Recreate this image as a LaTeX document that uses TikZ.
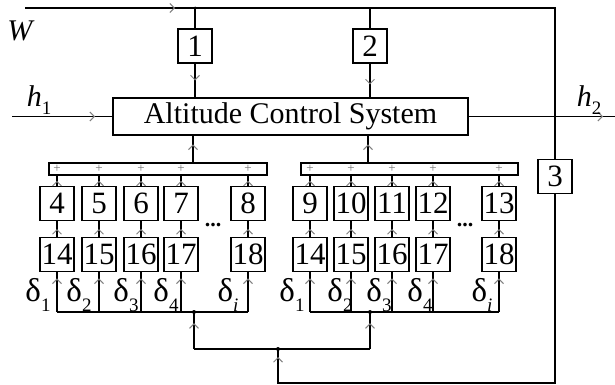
\documentclass[tikz,border=0pt]{standalone}
\usepackage{fontspec}
\setmainfont{Liberation Serif}
\usetikzlibrary{arrows.meta,decorations.markings}
\newcommand\lsub[1]{\raisebox{-0.28em}{\fontsize{19}{19}\selectfont #1}}
\tikzset{
  ln/.style={line width=1.9pt, draw=black},
  bx/.style={draw, line width=1.9pt, minimum width=34pt, minimum height=34pt, inner sep=0pt, font=\fontsize{31}{31}\selectfont, fill=white},
  tipat/.style={postaction={decorate,decoration={markings,mark=at position #1 with {\arrow[black!50]{Straight Barb[length=4.5pt,width=9pt,line width=1pt]}}}}},
  jdot/.style={circle, fill=black, inner sep=0pt, minimum size=4pt},
  lbl/.style={inner sep=0pt, font=\fontsize{30}{30}\selectfont},
  dlbl/.style={inner sep=0pt, font=\fontsize{33}{33}\selectfont},
  plus/.style={inner sep=0pt, text=black!55, font=\fontsize{13}{13}\selectfont},
  dots/.style={inner sep=0pt, font=\fontsize{22}{22}\selectfont\bfseries},
}
\begin{document}
\begin{tikzpicture}[x=1pt,y=-1pt]
\useasboundingbox (0,0) rectangle (615,385);
% top boxes
\node[bx] (b1) at (195,46) {1};
\node[bx] (b2) at (370,46) {2};
\node[bx] (b3) at (555,176.5) {3};
\node[draw, line width=1.9pt, minimum width=355pt, minimum height=37pt, inner sep=0pt, font=\fontsize{30}{30}\selectfont] (acs) at (290.5,116.5) {Altitude Control System};
% W line
\coordinate (wst) at (25,8);
\coordinate (tr) at (555,8);
\coordinate (j1) at (195,8);
\coordinate (j2) at (370,8);
\draw[ln, tipat=150pt] (wst) -- (tr) -- (b3.north);
\draw[ln] (j1) -- (b1.north);
\draw[ln] (j2) -- (b2.north);
\draw[ln, tipat=0.5] (b1.south) -- (b1.south |- acs.north);
\draw[ln, tipat=0.62] (b2.south) -- (b2.south |- acs.north);
\node[jdot, minimum size=3pt] at (j1) {};
% h1, h2
\coordinate (h1s) at (12,116.5);
\coordinate (h2e) at (615,116.5);
\draw[ln, tipat=-17pt] (h1s) -- (acs.west);
\draw[ln, tipat=-12pt] (acs.east) -- (h2e);
\node[lbl] (wl) at (21,31) {\textit{W}};
\node[lbl] (h1l) at (39,100) {\textit{h}\lsub{1}};
\node[lbl] (h2l) at (589,100) {\textit{h}\lsub{2}};
% summing bars
\node[draw, line width=1.9pt, minimum width=218pt, minimum height=12pt, inner sep=0pt] (barL) at (158,169) {};
\node[draw, line width=1.9pt, minimum width=217pt, minimum height=12pt, inner sep=0pt] (barR) at (409.5,169) {};
\coordinate (aL) at (193,135);
\coordinate (aR) at (368,135);
\draw[ln, tipat=0.65] (barL.north -| aL) -- (aL);
\draw[ln, tipat=0.65] (barR.north -| aR) -- (aR);
% left group
\foreach \x/\u/\l [count=\i] in {57/4/14, 99/5/15, 141/6/16, 181/7/17, 248/8/18} {
  \node[bx] (uL\i) at (\x,203.5) {\u};
  \node[bx] (lL\i) at (\x,254.5) {\l};
  \draw[ln, tipat=0.5] (lL\i.north) -- (uL\i.south);
  \draw[ln, tipat=0.5] (uL\i.north) -- (uL\i.north |- barL.south);
  \node[plus] at (\x,169) {+};
  \coordinate (dL\i) at (\x,312);
  \draw[ln, tipat=-6pt] (dL\i) -- (lL\i.south);
}
% right group
\foreach \x/\u/\l [count=\i] in {310/9/14, 351/10/15, 392/11/16, 433/12/17, 499/13/18} {
  \node[bx] (uR\i) at (\x,203.5) {\u};
  \node[bx] (lR\i) at (\x,254.5) {\l};
  \draw[ln, tipat=0.5] (lR\i.north) -- (uR\i.south);
  \draw[ln, tipat=0.5] (uR\i.north) -- (uR\i.north |- barR.south);
  \node[plus] at (\x,169) {+};
  \coordinate (dR\i) at (\x,312);
  \draw[ln, tipat=-6pt] (dR\i) -- (lR\i.south);
}
\node[dots] (dotsL) at (213,225) {...};
\node[dots] (dotsR) at (465,225) {...};
\draw[ln] (dL1) -- (dL5);
\draw[ln] (dR1) -- (dR5);
% delta labels
\node[dlbl] at (38,295) {δ\lsub{1}};
\node[dlbl] at (79,295) {δ\lsub{2}};
\node[dlbl] at (126,295) {δ\lsub{3}};
\node[dlbl] at (166,295) {δ\lsub{4}};
\node[dlbl] at (228,295) {δ\lsub{\textit{i}}};
\node[dlbl] at (292,295) {δ\lsub{1}};
\node[dlbl] at (340,295) {δ\lsub{2}};
\node[dlbl] at (379,295) {δ\lsub{3}};
\node[dlbl] at (420,295) {δ\lsub{4}};
\node[dlbl] at (482,295) {δ\lsub{\textit{i}}};
% bottom feed
\coordinate (jL) at (194,312);
\coordinate (jR) at (370,312);
\coordinate (jB) at (278,349);
\draw[ln] (jL |- jB) -- (jR |- jB);
\draw[ln, tipat=0.7] (jL |- jB) -- (jL);
\draw[ln, tipat=0.7] (jR |- jB) -- (jR);
\draw[ln, tipat=-8pt] (b3.south) -- (555,383) -- (278,383) -- (jB);
\node[jdot] at (jL) {};
\node[jdot] at (jR) {};
\node[jdot] at (jB) {};
\end{tikzpicture}
\end{document}
